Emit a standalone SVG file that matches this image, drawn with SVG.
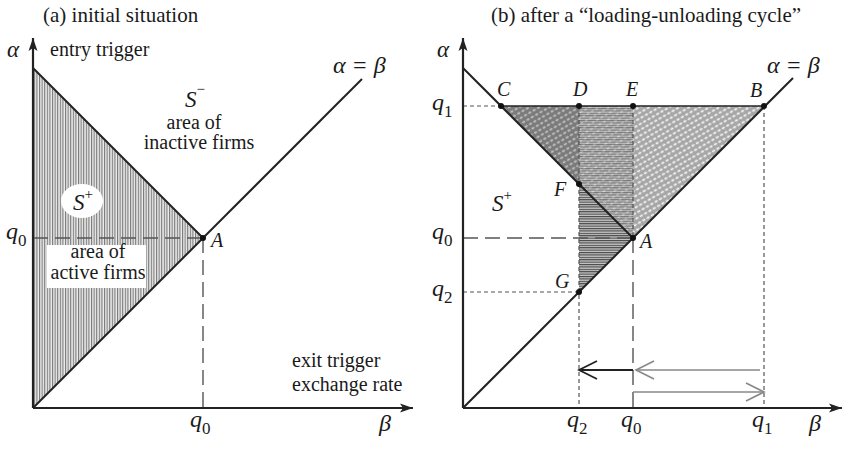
<svg xmlns="http://www.w3.org/2000/svg" width="843" height="450" viewBox="0 0 843 450">
<style>
.t{font-family:"Liberation Serif","Times New Roman",serif;font-size:20px;fill:#1a1a1a}
.i{font-style:italic}
.q{font-family:"Liberation Serif","Times New Roman",serif;font-size:24px;font-style:italic;fill:#1a1a1a}
.sub{font-style:normal;font-size:17px}
.ax{stroke:#222;stroke-width:2.2;fill:none}
.ln{stroke:#222;stroke-width:2;fill:none}
.dl{stroke:#555;stroke-width:1.4;stroke-dasharray:15 7;fill:none}
.ds{stroke:#555;stroke-width:1.2;stroke-dasharray:4 3;fill:none}
.pt{fill:#111}
</style>
<defs>
<marker id="ah" viewBox="-14 -6 15 12" refX="0" refY="0" markerWidth="15" markerHeight="12" markerUnits="userSpaceOnUse" orient="auto">
<path d="M-13,-4.5 L0,0 L-13,4.5 L-10,0 z" fill="#222"/>
</marker>
<marker id="chk" viewBox="-20 -12 22 24" refX="0" refY="0" markerWidth="22" markerHeight="24" markerUnits="userSpaceOnUse" orient="auto">
<path d="M-18,-9 L0,0 L-18,9" fill="none" stroke="#222" stroke-width="1.8"/>
</marker>
<marker id="chg" viewBox="-20 -12 22 24" refX="0" refY="0" markerWidth="22" markerHeight="24" markerUnits="userSpaceOnUse" orient="auto">
<path d="M-18,-9 L0,0 L-18,9" fill="none" stroke="#888" stroke-width="1.6"/>
</marker>
<pattern id="vh" width="2.6" height="10" patternUnits="userSpaceOnUse">
<rect width="2.6" height="10" fill="#ececec"/>
<rect x="0" width="1.1" height="10" fill="#777"/>
</pattern>
<pattern id="hl" width="10" height="2.4" patternUnits="userSpaceOnUse">
<rect width="10" height="2.4" fill="#c8c8c8"/>
<rect y="0" width="10" height="1.1" fill="#444"/>
</pattern>
<pattern id="ld" width="5" height="5" patternUnits="userSpaceOnUse" patternTransform="rotate(-30)">
<rect width="5" height="5" fill="#a6a6a6"/>
<ellipse cx="2.5" cy="2.5" rx="1.9" ry="1.1" fill="#f4f4f4"/>
</pattern>
<pattern id="dd" width="5" height="5" patternUnits="userSpaceOnUse" patternTransform="rotate(-30)">
<rect width="5" height="5" fill="#7a7a7a"/>
<ellipse cx="2.5" cy="2.5" rx="1.8" ry="1" fill="#c4c4c4"/>
</pattern>
</defs>

<g id="panel-a">
<g id="a-regions">
<polygon points="33,68 203,238 33,408" fill="url(#vh)"/>
<ellipse cx="82" cy="201" rx="21" ry="17" fill="#fff"/>
<rect x="47" y="245" width="99" height="43" fill="#fff"/>
</g>
<g id="a-connectors">
<line class="dl" x1="33" y1="238" x2="203" y2="238"/>
<line class="dl" x1="203" y1="238" x2="203" y2="408"/>
<line class="ln" x1="33" y1="68" x2="203" y2="238"/>
<line class="ln" x1="33" y1="408" x2="362" y2="79"/>
<line class="ax" x1="33" y1="408" x2="33" y2="38" marker-end="url(#ah)"/>
<line class="ax" x1="33" y1="408" x2="413" y2="408" marker-end="url(#ah)"/>
</g>
<g id="a-point-A"><circle class="pt" cx="203" cy="238" r="3"/><text class="t i" x="211" y="247">A</text></g>
<g id="a-labels">
<text class="t" x="43" y="22" style="font-size:21px">(a) initial situation</text>
<text class="q" x="7" y="57" style="font-size:23px">α</text>
<text class="t" x="50" y="56">entry trigger</text>
<text class="q" x="333" y="73">α = β</text>
<text class="t i" x="185" y="107" style="font-size:23px">S<tspan dy="-13" font-size="15" font-style="normal">−</tspan></text>
<text class="t" x="194" y="129" text-anchor="middle">area of</text>
<text class="t" x="199" y="149" text-anchor="middle">inactive firms</text>
<text class="t i" x="73" y="210" style="font-size:23px">S<tspan dy="-11" font-size="15" font-style="normal">+</tspan></text>
<text class="t" x="98" y="258" text-anchor="middle">area of</text>
<text class="t" x="98" y="279" text-anchor="middle">active firms</text>
<text class="q" x="6" y="239">q<tspan class="sub" dy="7">0</tspan></text>
<text class="t" x="292" y="367">exit trigger</text>
<text class="t" x="292" y="391">exchange rate</text>
<text class="q" x="190" y="427">q<tspan class="sub" dy="7">0</tspan></text>
<text class="q" x="379" y="431">β</text>
</g>
</g>

<g id="panel-b">
<g id="b-regions">
<polygon points="501,106 764,106 633,238" fill="url(#ld)"/>
<polygon points="501,106 579,106 579,184" fill="url(#dd)"/>
<polygon points="579,106 633,106 633,238 579,292" fill="url(#hl)"/>
<polygon points="579,106 633,106 633,238 579,184" fill="url(#ld)" opacity="0.5"/>
</g>
<g id="b-connectors">
<line class="ds" x1="463" y1="106" x2="501" y2="106"/>
<line class="ds" x1="463" y1="292" x2="579" y2="292"/>
<line class="ds" x1="579" y1="106" x2="579" y2="408"/>
<line class="ds" x1="764" y1="106" x2="764" y2="408"/>
<line class="ds" x1="633" y1="106" x2="633" y2="238"/>
<line class="dl" x1="463" y1="238" x2="633" y2="238"/>
<line class="dl" x1="633" y1="238" x2="633" y2="408"/>
<line class="ln" x1="501" y1="106" x2="764" y2="106" style="stroke-width:1.6"/>
<line class="ln" x1="463" y1="68" x2="633" y2="238"/>
<line class="ln" x1="463" y1="408" x2="793" y2="78"/>
<line class="ax" x1="463" y1="408" x2="463" y2="38" marker-end="url(#ah)"/>
<line class="ax" x1="463" y1="408" x2="842" y2="408" marker-end="url(#ah)"/>
<line x1="633" y1="370" x2="579" y2="370" stroke="#222" stroke-width="1.8" marker-end="url(#chk)"/>
<line x1="760" y1="370" x2="636" y2="370" stroke="#888" stroke-width="1.6" marker-end="url(#chg)"/>
<line x1="633" y1="392" x2="764" y2="392" stroke="#888" stroke-width="1.6" marker-end="url(#chg)"/>
</g>
<g id="b-point-C"><circle class="pt" cx="501" cy="106" r="3"/><text class="t i" x="497" y="96">C</text></g>
<g id="b-point-D"><circle class="pt" cx="579" cy="106" r="3"/><text class="t i" x="573" y="96">D</text></g>
<g id="b-point-E"><circle class="pt" cx="633" cy="106" r="3"/><text class="t i" x="626" y="96">E</text></g>
<g id="b-point-B"><circle class="pt" cx="764" cy="106" r="3"/><text class="t i" x="750" y="97">B</text></g>
<g id="b-point-F"><circle class="pt" cx="579" cy="184" r="3"/><text class="t i" x="554" y="196">F</text></g>
<g id="b-point-A"><circle class="pt" cx="633" cy="238" r="3"/><text class="t i" x="640" y="248">A</text></g>
<g id="b-point-G"><circle class="pt" cx="579" cy="292" r="3"/><text class="t i" x="555" y="288">G</text></g>
<g id="b-labels">
<text class="t" x="646" y="22" text-anchor="middle" style="font-size:21px">(b) after a “loading-unloading cycle”</text>
<text class="q" x="437" y="57" style="font-size:23px">α</text>
<text class="q" x="767" y="73">α = β</text>
<text class="t i" x="492" y="211" style="font-size:23px">S<tspan dy="-11" font-size="15" font-style="normal">+</tspan></text>
<text class="q" x="432" y="110">q<tspan class="sub" dy="7">1</tspan></text>
<text class="q" x="432" y="239">q<tspan class="sub" dy="7">0</tspan></text>
<text class="q" x="432" y="296">q<tspan class="sub" dy="7">2</tspan></text>
<text class="q" x="567" y="427">q<tspan class="sub" dy="7">2</tspan></text>
<text class="q" x="621" y="427">q<tspan class="sub" dy="7">0</tspan></text>
<text class="q" x="752" y="427">q<tspan class="sub" dy="7">1</tspan></text>
<text class="q" x="809" y="431">β</text>
</g>
</g>
</svg>
